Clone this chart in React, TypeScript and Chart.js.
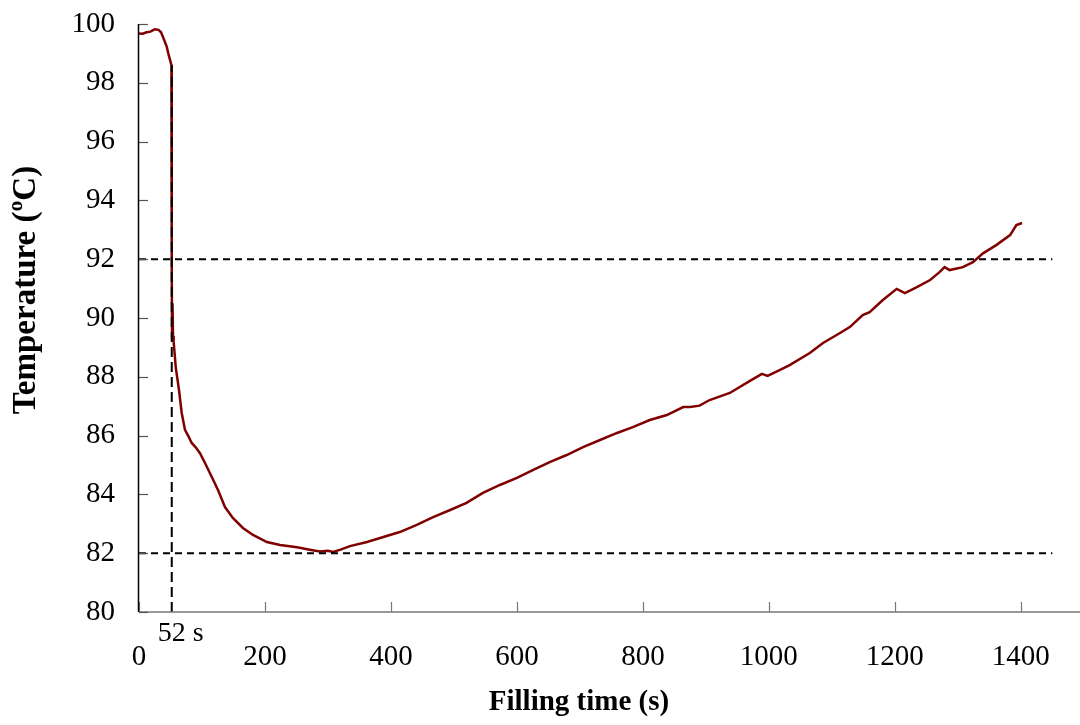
import React, { useEffect, useRef } from "react";
import { Chart, registerables } from "chart.js";

Chart.register(...registerables);

// Filling time (s)
const timeS = [
  0, 6, 12, 18, 25, 31, 35, 39, 44, 46.5, 50, 51.5, 52, 52.5, 53.2, 54, 55, 58.3, 63.5, 67.8,
  73, 78, 83.7, 90, 96.8, 104.8, 115.4, 125.4, 136.5, 149, 165, 181, 203, 224, 251, 271, 287,
  300, 308, 320, 335, 362, 388, 414, 441, 467, 494, 520, 546, 573, 600, 626, 652, 679, 705,
  732, 759, 784, 811, 838, 864, 875, 890, 906, 938, 970, 989, 998, 1017, 1033, 1065, 1086,
  1113, 1129, 1149, 1160, 1181, 1203, 1216, 1235, 1256, 1271, 1279, 1287, 1308, 1324, 1340,
  1361, 1383, 1393, 1402,
];
// Temperature (ºC)
const tempC = [
  99.68, 99.67, 99.72, 99.74, 99.82, 99.8, 99.72, 99.51, 99.23, 99.0, 98.72, 98.6, 91.5, 89.3,
  90.5, 89.4, 89.2, 88.33, 87.55, 86.77, 86.2, 86.0, 85.75, 85.6, 85.4, 85.07, 84.6, 84.15,
  83.57, 83.2, 82.86, 82.62, 82.38, 82.28, 82.2, 82.12, 82.06, 82.08, 82.04, 82.12, 82.24,
  82.38, 82.55, 82.72, 82.96, 83.23, 83.47, 83.71, 84.05, 84.32, 84.56, 84.83, 85.1, 85.34,
  85.61, 85.85, 86.09, 86.29, 86.53, 86.7, 86.97, 86.97, 87.02, 87.21, 87.45, 87.86, 88.1,
  88.03, 88.23, 88.4, 88.81, 89.15, 89.49, 89.7, 90.1, 90.2, 90.61, 90.99, 90.85, 91.05,
  91.29, 91.56, 91.73, 91.63, 91.73, 91.9, 92.2, 92.48, 92.82, 93.16, 93.23,
];

// Reference lines
const refTemps = [82, 92];
const refLineEndS = 1450;
const markTimeS = 52;
const markTempRange = [80, 98.6];
const markLabel = "52 s";

const xTickValues = [0, 200, 400, 600, 800, 1000, 1200, 1400];
const yTickValues = [80, 82, 84, 86, 88, 90, 92, 94, 96, 98, 100];

const xTitle = "Filling time (s)";
const yTitle = "Temperature (ºC)";

const FONT = '"Liberation Serif", "Times New Roman", serif';

export default function App() {
  const ref = useRef<HTMLCanvasElement | null>(null);

  useEffect(() => {
    if (!ref.current) return;

    const overlay = {
      id: "overlay",
      afterDraw(chart: any) {
        const ctx = chart.ctx;
        const x = chart.scales.x;
        const y = chart.scales.y;
        const a = chart.chartArea;
        ctx.save();
        // x axis line
        ctx.strokeStyle = "#777";
        ctx.lineWidth = 1.5;
        ctx.beginPath();
        ctx.moveTo(a.left, a.bottom);
        ctx.lineTo(a.right, a.bottom);
        ctx.stroke();
        // x ticks (inward)
        ctx.lineWidth = 1.2;
        xTickValues.forEach((v) => {
          const px = Math.round(x.getPixelForValue(v)) + 0.5;
          ctx.beginPath();
          ctx.moveTo(px, a.bottom);
          ctx.lineTo(px, a.bottom - 10);
          ctx.stroke();
        });
        // y ticks (inward)
        ctx.strokeStyle = "#555";
        yTickValues.forEach((v) => {
          const py = Math.round(y.getPixelForValue(v)) + 0.5;
          ctx.beginPath();
          ctx.moveTo(a.left, py);
          ctx.lineTo(a.left + 9, py);
          ctx.stroke();
        });
        // y axis line
        ctx.strokeStyle = "#000";
        ctx.lineWidth = 1.5;
        ctx.beginPath();
        ctx.moveTo(a.left - 0.5, a.top);
        ctx.lineTo(a.left - 0.5, a.bottom);
        ctx.stroke();

        // annotation label
        ctx.fillStyle = "#000";
        ctx.font = `28px ${FONT}`;
        ctx.textAlign = "center";
        ctx.textBaseline = "middle";
        ctx.fillText(markLabel, x.getPixelForValue(markTimeS) + 9, a.bottom + 22);

        // axis titles
        ctx.font = `bold 29px ${FONT}`;
        ctx.fillText(xTitle, 579, 703);
        ctx.save();
        ctx.translate(26, 290);
        ctx.rotate(-Math.PI / 2);
        ctx.font = `bold 33px ${FONT}`;
        ctx.fillText(yTitle, 0, 0);
        ctx.restore();
        ctx.restore();
      },
    };

    const points = timeS.map((t, i) => ({ x: t, y: tempC[i] }));
    const refSets = refTemps.map((v) => ({
      type: "line" as const,
      data: [
        { x: 0, y: v },
        { x: refLineEndS, y: v },
      ],
      borderColor: "#000",
      borderWidth: 2,
      borderDash: [7, 5],
      pointRadius: 0,
      order: 0,
    }));

    const chart = new Chart(ref.current, {
      type: "line",
      data: {
        datasets: [
          {
            data: points,
            borderColor: "#800000",
            borderWidth: 2.5,
            pointRadius: 0,
            tension: 0,
            order: 1,
          },
          ...refSets,
          {
            data: [
              { x: markTimeS, y: markTempRange[0] },
              { x: markTimeS, y: markTempRange[1] },
            ],
            borderColor: "#000",
            borderWidth: 2,
            borderDash: [10, 5],
            pointRadius: 0,
            order: 0,
          },
        ] as any,
      },
      options: {
        responsive: false,
        animation: false,
        layout: { padding: { top: 24, right: 0, left: 0, bottom: 0 } },
        plugins: {
          legend: { display: false },
          tooltip: { enabled: false },
        },
        scales: {
          x: {
            type: "linear",
            min: 0,
            max: 1494,
            grid: { display: false },
            border: { display: false },
            afterBuildTicks: (scale: any) => {
              scale.ticks = xTickValues.map((v) => ({ value: v }));
            },
            afterFit: (scale: any) => {
              scale.height = 113;
              scale.paddingLeft = 0;
              scale.paddingRight = 0;
            },
            ticks: {
              color: "#000",
              font: { family: FONT, size: 29 },
              padding: 20,
              maxRotation: 0,
              autoSkip: false,
              callback: (v: any) => String(v),
            },
          },
          y: {
            type: "linear",
            min: 80,
            max: 100,
            grid: { display: false },
            border: { display: false },
            afterBuildTicks: (scale: any) => {
              scale.ticks = yTickValues.map((v) => ({ value: v }));
            },
            afterFit: (scale: any) => {
              scale.width = 139;
              scale.paddingTop = 0;
              scale.paddingBottom = 0;
            },
            ticks: {
              color: "#000",
              font: { family: FONT, size: 29 },
              padding: 16,
              autoSkip: false,
              callback: (v: any) => String(v),
            },
          },
        },
      },
      plugins: [overlay],
    });

    return () => chart.destroy();
  }, []);

  return (
    <div style={{ position: "absolute", left: 0, top: 0, width: 1080, height: 725, background: "#fff" }}>
      <canvas ref={ref} width={1080} height={725} />
    </div>
  );
}
